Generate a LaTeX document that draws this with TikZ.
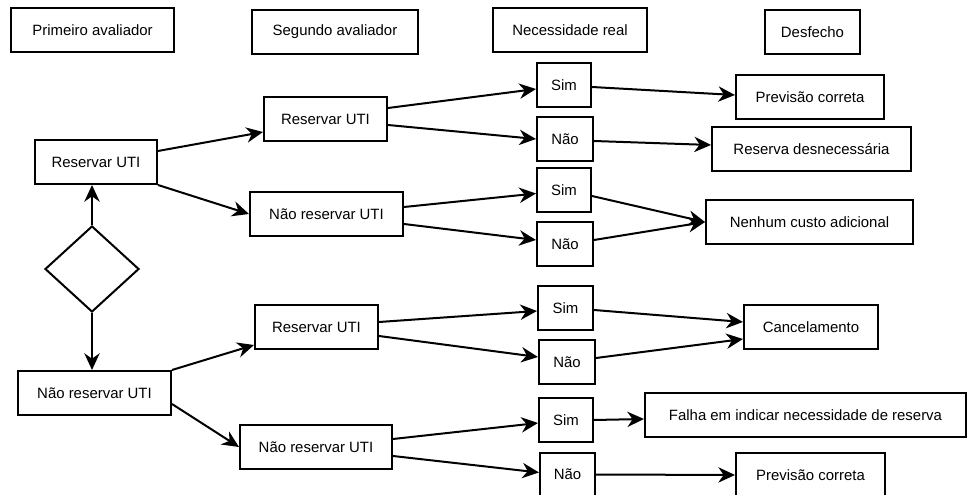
\documentclass[tikz,border=0pt]{standalone}
\usepackage{fontspec}
\setmainfont{Liberation Sans}
\usetikzlibrary{arrows.meta,shapes.geometric,calc}

\begin{document}
\begin{tikzpicture}[x=0.75pt,y=-0.75pt,
        caixa/.style={draw,line width=1.5pt,minimum height=33pt,inner sep=0pt,font=\fontsize{11.2}{13}\selectfont},
        seta/.style={line width=1.5pt,-{Stealth[length=12.5pt,width=11.5pt,inset=4pt]}}]
    \useasboundingbox (0,0) rectangle (968,495);

    \node[caixa,minimum width=122.25pt] (prim) at (92.5,30.5) {Primeiro avaliador};
    \node[caixa,minimum width=124.5pt] (seg) at (335,32) {Segundo avaliador};
    \node[caixa,minimum width=115.5pt] (nec) at (570,30) {Necessidade real};
    \node[caixa,minimum width=71.25pt] (desf) at (812.5,32) {Desfecho};

    \node[draw,diamond,line width=1.5pt,inner sep=0pt,minimum width=70.5pt,minimum height=64.5pt] (dec) at (92,269) {};
    \node[caixa,minimum width=91.5pt] (r1) at (96,162) {Reservar UTI};
    \node[caixa,minimum width=114.75pt] (n1) at (94.5,393) {Não reservar UTI};

    \node[caixa,minimum width=92.25pt] (rr) at (325.5,119) {Reservar UTI};
    \node[caixa,minimum width=114.75pt] (rn) at (326.5,214) {Não reservar UTI};
    \node[caixa,minimum width=92.25pt] (nr) at (316.5,327) {Reservar UTI};
    \node[caixa,minimum width=114pt] (nn) at (316,447) {Não reservar UTI};

    \node[caixa,minimum width=40.5pt] (rrs) at (564,85) {Sim};
    \node[caixa,minimum width=42pt] (rrn) at (565,139) {Não};
    \node[caixa,minimum width=40.5pt] (rns) at (564,190.5) {Sim};
    \node[caixa,minimum width=42pt] (rnn) at (565,244) {Não};
    \node[caixa,minimum width=41.25pt] (nrs) at (565.5,308.5) {Sim};
    \node[caixa,minimum width=42pt] (nrn) at (567,362) {Não};
    \node[caixa,minimum width=40.5pt] (nns) at (566,420) {Sim};
    \node[caixa,minimum width=41.25pt] (nnn) at (567.5,474.5) {Não};

    \node[caixa,minimum width=111pt] (prev1) at (810,97) {Previsão correta};
    \node[caixa,minimum width=149.25pt] (desn) at (811.5,149.5) {Reserva desnecessária};
    \node[caixa,minimum width=155.25pt] (nenhum) at (809.5,222) {Nenhum custo adicional};
    \node[caixa,minimum width=100.5pt] (canc) at (811,327.5) {Cancelamento};
    \node[caixa,minimum width=240.75pt] (falha) at (805.5,415) {Falha em indicar necessidade de reserva};
    \node[caixa,minimum width=111.75pt] (prev2) at (810.5,475) {Previsão correta};

    \draw[seta] (dec.north) -- (dec.north |- r1.south);
    \draw[seta] (dec.south) -- (dec.south |- n1.north);

    \draw[seta] ($(r1.east)+(0,-11)$) -- ($(rr.west)+(0,13)$);
    \draw[seta] (r1.south east) -- (rn.west);
    \draw[seta] (n1.north east) -- ($(nr.west)+(0,18)$);
    \draw[seta] ($(n1.east)+(0,11)$) -- (nn.west);

    \draw[seta] ($(rr.east)+(0,-11)$) -- ($(rrs.west)+(0,4)$);
    \draw[seta] ($(rr.east)+(0,6)$) -- (rrn.west);
    \draw[seta] ($(rn.east)+(0,-7)$) -- ($(rns.west)+(0,3)$);
    \draw[seta] ($(rn.east)+(0,10)$) -- ($(rnn.west)+(0,-4)$);
    \draw[seta] ($(nr.east)+(0,-5)$) -- ($(nrs.west)+(0,2.5)$);
    \draw[seta] ($(nr.east)+(0,9)$) -- ($(nrn.west)+(0,-5)$);
    \draw[seta] ($(nn.east)+(0,-8)$) -- ($(nns.west)+(0,3)$);
    \draw[seta] ($(nn.east)+(0,9)$) -- ($(nnn.west)+(0,-2)$);

    \draw[seta] ($(rrs.east)+(0,2)$) -- ($(prev1.west)+(0,-2)$);
    \draw[seta] ($(rrn.east)+(0,2)$) -- ($(desn.west)+(0,-4.5)$);
    \draw[seta] ($(rns.east)+(0,5.5)$) -- (nenhum.west);
    \draw[seta] ($(rnn.east)+(0,-4)$) -- (nenhum.west);
    \draw[seta] ($(nrs.east)+(0,1.5)$) -- ($(canc.west)+(0,-5.5)$);
    \draw[seta] ($(nrn.east)+(0,-4)$) -- ($(canc.west)+(0,11.5)$);
    \draw[seta] (nns.east) -- ($(falha.west)+(0,4)$);
    \draw[seta] (nnn.east) -- (prev2.west);
\end{tikzpicture}
\end{document}
